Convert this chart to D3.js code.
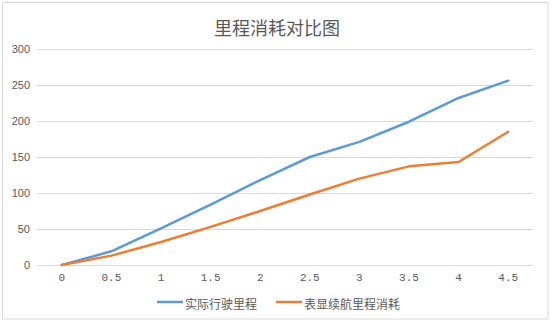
<!DOCTYPE html>
<html>
<head>
<meta charset="utf-8">
<script src="https://cdn.jsdelivr.net/npm/d3@7"></script>
<style>
  html, body { margin: 0; padding: 0; background: #fff; }
  svg { display: block; }
</style>
</head>
<body>
<svg id="chart" width="554" height="325"></svg>
<script>
// Mileage comparison: actual distance driven vs. dashboard range consumed
const categories = ["0", "0.5", "1", "1.5", "2", "2.5", "3", "3.5", "4", "4.5"];
const actualMileage = [0, 19, 51, 84, 118, 150, 171, 199, 232, 256];
const displayedRangeUsed = [0, 13, 32, 53, 75, 98, 120, 137, 143, 185];
const yTicks = [0, 50, 100, 150, 200, 250, 300];
const seriesNames = ["实际行驶里程", "表显续航里程消耗"];
const seriesColors = ["#5B9BD5", "#ED7D31"];
const titleText = "里程消耗对比图";

const svg = d3.select("#chart");
const W = 554, H = 325;
const cjk = "'Noto Sans CJK SC', 'Noto Sans', sans-serif";

// chart frame
svg.append("rect")
  .attr("x", 2.5).attr("y", 2.5)
  .attr("width", 545.5).attr("height", 316.5)
  .attr("fill", "#fff")
  .attr("stroke", "#d9d9d9")
  .attr("stroke-width", 1);

const plot = { left: 37, right: 533, top: 49, bottom: 265 };

const x = d3.scaleBand()
  .domain(categories)
  .range([plot.left, plot.right]);

const y = d3.scaleLinear()
  .domain([0, 300])
  .range([plot.bottom, plot.top]);

// horizontal gridlines
svg.append("g")
  .selectAll("line")
  .data(yTicks)
  .join("line")
  .attr("x1", plot.left).attr("x2", plot.right)
  .attr("y1", d => Math.round(y(d)) + 0.5)
  .attr("y2", d => Math.round(y(d)) + 0.5)
  .attr("stroke", "#d9d9d9")
  .attr("stroke-width", 1);

// y axis labels
const yAxis = d3.axisLeft(y).tickValues(yTicks).tickSize(0).tickPadding(0);
const yg = svg.append("g")
  .attr("transform", `translate(${plot.left - 7},0)`)
  .call(yAxis);
yg.select(".domain").remove();
yg.selectAll("text")
  .attr("fill", "#595959")
  .attr("font-family", "'Liberation Sans', Arial, sans-serif")
  .attr("font-size", 11);

// x axis labels
const xAxis = d3.axisBottom(x).tickSize(0).tickPadding(0);
const xg = svg.append("g")
  .attr("transform", `translate(0,${plot.bottom + 8})`)
  .call(xAxis);
xg.select(".domain").remove();
xg.selectAll("text")
  .attr("fill", "#595959")
  .attr("font-family", "'Liberation Mono', 'DejaVu Sans Mono', monospace")
  .attr("font-size", 11)
  .attr("dy", "0.71em");

// series lines
const line = d3.line()
  .x((d, i) => x(categories[i]) + x.bandwidth() / 2)
  .y(d => y(d));

[actualMileage, displayedRangeUsed].forEach((vals, k) => {
  svg.append("path")
    .datum(vals)
    .attr("d", line)
    .attr("fill", "none")
    .attr("stroke", seriesColors[k])
    .attr("stroke-width", 2.5)
    .attr("stroke-linejoin", "round")
    .attr("stroke-linecap", "round");
});

// title
svg.append("text")
  .attr("x", W / 2)
  .attr("y", 27)
  .attr("text-anchor", "middle")
  .attr("dominant-baseline", "central")
  .attr("fill", "#595959")
  .attr("font-family", cjk)
  .attr("font-size", 18)
  .text(titleText);

// legend
const legendItems = [
  { x: 157, name: seriesNames[0], color: seriesColors[0] },
  { x: 276, name: seriesNames[1], color: seriesColors[1] }
];
const lg = svg.append("g");
legendItems.forEach(item => {
  lg.append("line")
    .attr("x1", item.x).attr("x2", item.x + 26)
    .attr("y1", 302).attr("y2", 302)
    .attr("stroke", item.color)
    .attr("stroke-width", 2.5);
  lg.append("text")
    .attr("x", item.x + 28)
    .attr("y", 303)
    .attr("dominant-baseline", "central")
    .attr("fill", "#595959")
    .attr("font-family", cjk)
    .attr("font-size", 12)
    .text(item.name);
});
</script>
</body>
</html>
